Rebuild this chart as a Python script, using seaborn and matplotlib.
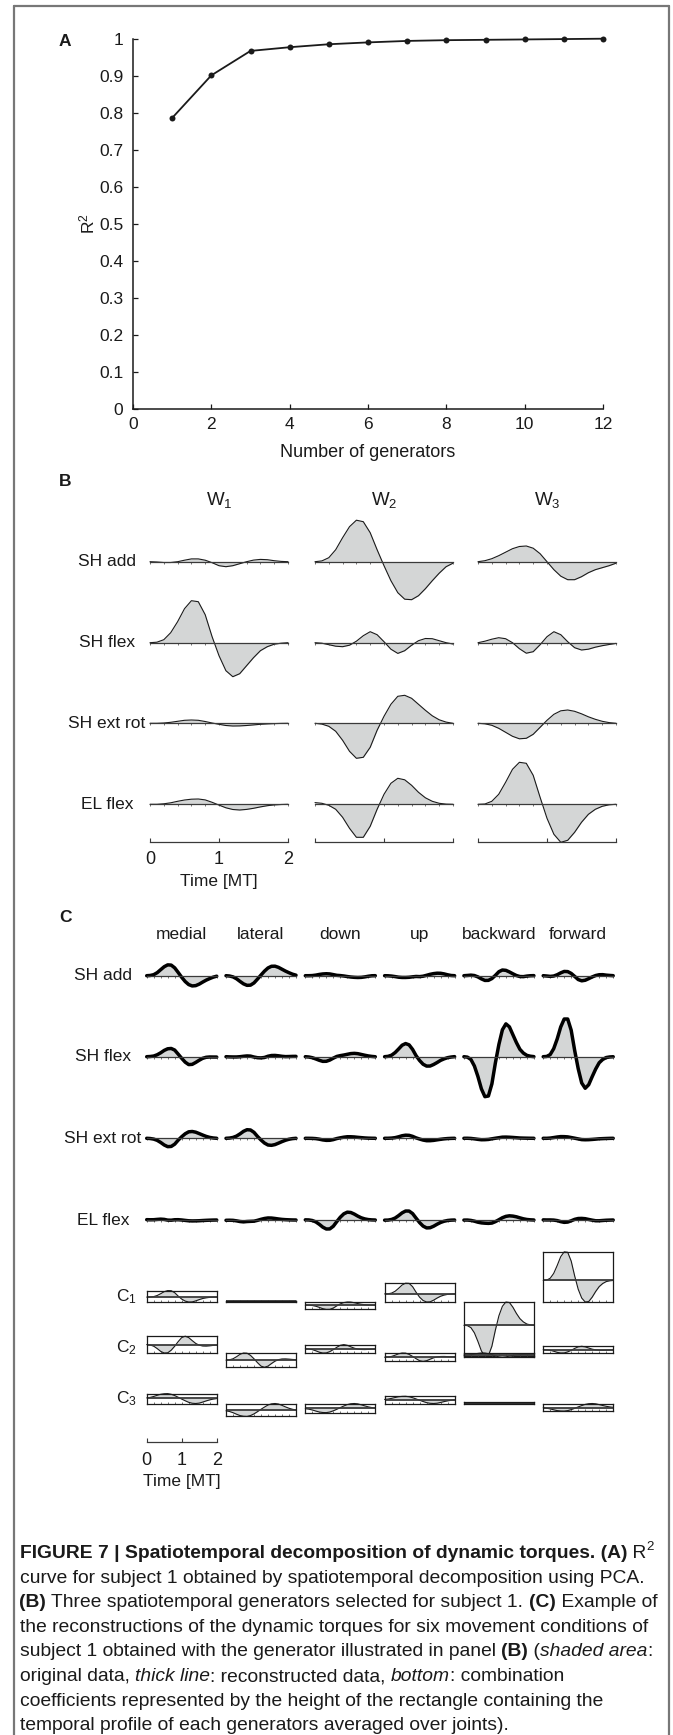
import numpy as np
import matplotlib
matplotlib.use("Agg")
import matplotlib.pyplot as plt
import seaborn as sns
import pandas as pd
from matplotlib.lines import Line2D
from matplotlib.font_manager import FontProperties

# ---------------- data ----------------
N_GENERATORS = [1, 2, 3, 4, 5, 6, 7, 8, 9, 10, 11, 12]
R2_VALUES = [0.786, 0.901, 0.967, 0.977, 0.985, 0.990, 0.994, 0.996, 0.997, 0.998, 0.999, 1.0]
R2_TICKS = ['0', '0.1', '0.2', '0.3', '0.4', '0.5', '0.6', '0.7', '0.8', '0.9', '1']

TIME = [0.0, 0.1, 0.2, 0.3, 0.4, 0.5, 0.6, 0.7, 0.8, 0.9, 1.0,
        1.1, 1.2, 1.3, 1.4, 1.5, 1.6, 1.7, 1.8, 1.9, 2.0]

JOINTS = ['SH add', 'SH flex', 'SH ext rot', 'EL flex']
GEN_TITLES = ['W$_1$', 'W$_2$', 'W$_3$']
CONDITIONS = ['medial', 'lateral', 'down', 'up', 'backward', 'forward']
COEF_LABELS = ['C$_1$', 'C$_2$', 'C$_3$']

# generator W1 (px amplitude per joint)
W1_SH_ADD = [0, -0.3, -0.8, -0.8, 0, 1.5, 2.8, 2.8, 1.5, -1, -4, -5, -4, -2, 0, 1.6, 2.3, 2.0, 1.0, 0.3, 0]
W1_SH_FLEX = [0, 0.5, 3, 10, 21, 34, 42, 41, 28, 6, -13, -28, -34, -31, -23, -15, -8, -4, -1.5, -0.5, 0]
W1_SH_EXT = [0, 0, 0.3, 1, 2, 3, 3.3, 3, 1.8, 0.3, -1, -2.2, -2.7, -2.6, -2.2, -1.6, -1, -0.6, -0.3, -0.1, 0]
W1_EL_FLEX = [0, 0, 0.5, 1.5, 3, 4.3, 5.1, 5.3, 4.4, 2, -0.8, -3.5, -5.2, -5.7, -5.1, -4, -2.6, -1.4, -0.6, -0.2, 0]
# generator W2
W2_SH_ADD = [0, 0.8, 4, 12, 24, 35, 41.5, 40, 29, 12, -4, -19, -31, -37.5, -38, -34, -27, -19, -11.5, -5, -1.5]
W2_SH_FLEX = [0, -0.5, -2, -3.5, -4, -2.5, 1.5, 7, 11, 8, 1, -6.5, -10.7, -8, -2.5, 2, 4.2, 4, 2, 0, -1.3]
W2_SH_EXT = [0, -0.8, -3, -8, -17, -28, -35, -34, -24, -7, 7, 19, 27, 28, 25, 19, 13, 7.5, 3.5, 1.2, 0]
W2_EL_FLEX = [1.7, 1, -1, -5, -13, -24, -33, -33, -22, -5, 10, 21, 26, 24.5, 19, 12, 6.5, 3, 1, 0.2, 0]
# generator W3
W3_SH_ADD = [0, 1, 3, 6, 9.5, 13, 15.2, 15.7, 13.5, 8, 0, -8, -14.5, -18, -18, -15, -11, -8, -6, -4, -1.5]
W3_SH_FLEX = [0, 1.5, 3.5, 5, 4, 0, -6, -10.5, -9, -2, 6, 11, 8, 1, -5, -7.3, -6.5, -4.5, -3, -1.8, -0.7]
W3_SH_EXT = [0, -0.5, -2, -5, -9, -13, -15.5, -15, -11, -4, 3, 9, 12.5, 13.3, 12, 9.5, 6.5, 4, 2, 0.7, 0]
W3_EL_FLEX = [0, 0.3, 3, 10, 22, 35, 42, 41, 29, 7, -14, -30, -38, -36, -28, -18, -10, -5, -2, -0.5, 0]

# temporal profiles of generators averaged over joints (per unit coefficient)
P1 = [0, 0.4, 2.5, 8, 17, 27, 32.5, 32, 22, 5, -10, -20, -24.5, -24, -19, -12.5, -7, -3.5, -1.3, -0.4, 0]
P2 = [0, -2, -8, -20, -34, -42, -41, -28, -8, 15, 35, 42, 35, 20, 6, -3, -7, -7.5, -6, -4, -3]
P3 = [2, 6, 13, 22, 30, 34, 35, 30, 20, 7, -7, -20, -32, -39, -41, -38, -30, -21, -13, -7, -3]

# combination coefficients per condition
C1_COEF = [0.20, 0.00, -0.13, 0.33, -0.95, 0.88]
C2_COEF = [0.20, -0.17, 0.10, -0.10, -0.05, 0.08]
C3_COEF = [0.13, -0.17, -0.12, 0.095, 0.00, -0.10]

GENS = [[W1_SH_ADD, W1_SH_FLEX, W1_SH_EXT, W1_EL_FLEX],
        [W2_SH_ADD, W2_SH_FLEX, W2_SH_EXT, W2_EL_FLEX],
        [W3_SH_ADD, W3_SH_FLEX, W3_SH_EXT, W3_EL_FLEX]]
PROFILES = [P1, P2, P3]
COEFS = [C1_COEF, C2_COEF, C3_COEF]

# ---------------- style ----------------
sns.set_theme(style="white")
plt.rcParams['font.family'] = ['Liberation Sans', 'DejaVu Sans']
plt.rcParams['mathtext.fontset'] = 'custom'
plt.rcParams['mathtext.rm'] = 'Liberation Sans'
plt.rcParams['mathtext.it'] = 'Liberation Sans:italic'
plt.rcParams['mathtext.bf'] = 'Liberation Sans:bold'

FILL = '#d4d6d6'
DARK = '#1a1a1a'
BASE = '#3a3a3a'
LBL = 12.5

W, H = 673, 1735
fig = plt.figure(figsize=(W / 100, H / 100), dpi=100)
fig.patch.set_facecolor('white')


def px_axes(x0, x1, ytop, ybot):
    return fig.add_axes([x0 / W, 1 - ybot / H, (x1 - x0) / W, (ybot - ytop) / H])


def ftext(x, y, s, **kw):
    return fig.text(x / W, 1 - y / H, s, **kw)


TICKS_02 = np.round(np.arange(0, 2.01, 0.2), 1)


def style_trace(ax, lim=50):
    ax.set_xlim(0, 2)
    ax.set_ylim(-lim, lim)
    for s in ['top', 'right', 'left']:
        ax.spines[s].set_visible(False)
    ax.spines['bottom'].set_position(('data', 0))
    ax.spines['bottom'].set_color(BASE)
    ax.spines['bottom'].set_linewidth(0.9)
    ax.set_xticks(TICKS_02)
    ax.tick_params(axis='x', bottom=True, direction='out', length=1.6, width=0.5,
                   colors=BASE, labelbottom=False)
    ax.set_yticks([])
    ax.set_xlabel('')
    ax.set_ylabel('')
    ax.patch.set_visible(False)


def time_axis(x0, x1, ybase, labels):
    ax = px_axes(x0, x1, ybase - 10, ybase)
    ax.set_xlim(0, 2)
    ax.set_ylim(0, 1)
    for s in ['top', 'right', 'left']:
        ax.spines[s].set_visible(False)
    ax.spines['bottom'].set_color(BASE)
    ax.spines['bottom'].set_linewidth(0.9)
    ax.set_xticks([0, 1, 2])
    ax.set_yticks([])
    ax.patch.set_visible(False)
    ax.tick_params(axis='x', bottom=True, direction='in', length=3, width=0.8,
                   colors=BASE, labelcolor=DARK, labelsize=13, pad=7)
    if labels:
        ax.set_xticklabels(['0', '1', '2'])
        lab = ax.set_xlabel('Time [MT]', fontsize=LBL, color=DARK)
        ax.xaxis.set_label_coords(0.5, -3.2)
        lab.set_va('top')
    else:
        ax.set_xticklabels([])
    return ax


# ---------------- border ----------------
for xs, ys in [([13.5, 13.5], [6, H + 5]), ([668.5, 668.5], [6, H + 5]), ([13.5, 668.5], [6, 6])]:
    fig.add_artist(Line2D([x / W for x in xs], [1 - y / H for y in ys],
                          transform=fig.transFigure, color='#777777', lw=1.6))

# ---------------- panel A ----------------
axA = px_axes(133, 603, 38.7, 409)
dfA = pd.DataFrame({'n': N_GENERATORS, 'r2': R2_VALUES})
sns.lineplot(data=dfA, x='n', y='r2', ax=axA, color=DARK, lw=1.3, marker='o',
             markersize=4.3, markeredgewidth=0, markerfacecolor=DARK, clip_on=False)
axA.set_xlim(0, 12)
axA.set_ylim(0, 1)
axA.set_xticks(range(0, 13, 2))
axA.set_yticks(np.round(np.arange(0, 1.01, 0.1), 1))
axA.set_yticklabels(R2_TICKS)
for s in ['top', 'right']:
    axA.spines[s].set_visible(False)
for s in ['left', 'bottom']:
    axA.spines[s].set_color(DARK)
    axA.spines[s].set_linewidth(1.1)
axA.tick_params(axis='both', bottom=True, left=True, direction='in', length=3.5, width=0.9,
                colors=DARK, labelsize=12.5)
axA.tick_params(axis='y', pad=7)
axA.tick_params(axis='x', pad=6)
axA.patch.set_visible(False)
xl = axA.set_xlabel('Number of generators', fontsize=13, color=DARK)
axA.xaxis.set_label_coords(0.5, -(444 - 409) / 370.3)
xl.set_va('top')
yl = axA.set_ylabel('R$^2$', fontsize=12.5, color=DARK)
axA.yaxis.set_label_coords((87 - 133) / 470, 0.5)
yl.set_va('center')
ftext(65, 42, 'A', fontsize=12.5, fontweight='bold', ha='center', va='center', color=DARK)

# ---------------- panel B ----------------
ftext(65, 482, 'B', fontsize=12.5, fontweight='bold', ha='center', va='center', color=DARK)
B_COLS_X = [150, 315, 478]
B_COL_W = 138
B_ROWS_Y = [561.7, 642.7, 723.3, 804.3]
for c in range(3):
    ftext(B_COLS_X[c] + B_COL_W / 2, 500, GEN_TITLES[c], fontsize=13.5, ha='center',
          va='center', color=DARK)
    for r in range(4):
        yb = B_ROWS_Y[r]
        ax = px_axes(B_COLS_X[c], B_COLS_X[c] + B_COL_W, yb - 50, yb + 50)
        vals = GENS[c][r]
        ax.fill_between(TIME, 0, vals, color=FILL, lw=0)
        sns.lineplot(x=TIME, y=vals, ax=ax, color=DARK, lw=0.8, clip_on=False)
        style_trace(ax)
    time_axis(B_COLS_X[c], B_COLS_X[c] + B_COL_W, 841.7, labels=(c == 0))
for r in range(4):
    ftext(107, B_ROWS_Y[r], JOINTS[r], fontsize=LBL, ha='center', va='center', color=DARK)

# ---------------- panel C ----------------
ftext(65, 917, 'C', fontsize=12.5, fontweight='bold', ha='center', va='center', color=DARK)
C_COLS_X = [146.7, 226.0, 305.3, 384.6, 463.9, 543.2]
C_COL_W = 70
C_ROWS_Y = [975.7, 1056.7, 1138.3, 1220.0]
C_REF_Y = [1302, 1353, 1403.5]

for k in range(6):
    ftext(C_COLS_X[k] + C_COL_W / 2, 934, CONDITIONS[k], fontsize=LBL, ha='center',
          va='center', color=DARK)
    for j in range(4):
        recon = sum(COEFS[i][k] * np.array(GENS[i][j], dtype=float) for i in range(3))
        yb = C_ROWS_Y[j]
        ax = px_axes(C_COLS_X[k], C_COLS_X[k] + C_COL_W, yb - 50, yb + 50)
        ax.fill_between(TIME, 0, recon, color=FILL, lw=0)
        sns.lineplot(x=TIME, y=recon, ax=ax, color=DARK, lw=0.6, clip_on=False)
        sns.lineplot(x=TIME, y=recon, ax=ax, color='black', lw=2.5, clip_on=False,
                     solid_capstyle='round')
        style_trace(ax)
    # coefficient rectangles
    for i in range(3):
        a = COEFS[i][k]
        curve = a * np.array(PROFILES[i], dtype=float)
        lo, hi = curve.min(), curve.max()
        if hi - lo < 1.5:
            mid = (hi + lo) / 2
            lo, hi = mid - 0.75, mid + 0.75
        span = hi - lo
        ref = C_REF_Y[i]
        if a >= 0:
            ytop, ybot = ref - span, ref
        else:
            ytop, ybot = ref, ref + span
        ax = px_axes(C_COLS_X[k], C_COLS_X[k] + C_COL_W, ytop, ybot)
        ax.set_xlim(0, 2)
        ax.set_ylim(lo, hi)
        ax.fill_between(TIME, 0, curve, color=FILL, lw=0)
        ax.axhline(0, color=BASE, lw=1.3, zorder=2.2)
        sns.lineplot(x=TIME, y=curve, ax=ax, color=DARK, lw=0.8, clip_on=False)
        for s in ax.spines.values():
            s.set_visible(True)
            s.set_color(DARK)
            s.set_linewidth(0.9)
        ax.set_xticks(TICKS_02)
        ax.set_yticks([])
        ax.tick_params(axis='x', bottom=True, direction='in', length=1.5, width=0.5,
                       colors=BASE, labelbottom=False)
        ax.set_xlabel('')
        ax.set_ylabel('')
        ax.patch.set_visible(False)

for j in range(4):
    ftext(103, C_ROWS_Y[j], JOINTS[j], fontsize=LBL, ha='center', va='center', color=DARK)
for i in range(3):
    ftext(137, C_REF_Y[i] - 5, COEF_LABELS[i], fontsize=LBL, ha='right', va='center',
          color=DARK)
time_axis(C_COLS_X[0], C_COLS_X[0] + C_COL_W, 1442, labels=True)

# ---------------- caption ----------------
renderer = fig.canvas.get_renderer()
FAM = ['Liberation Sans', 'DejaVu Sans']


def seg_width(s, size, weight='normal', style='normal'):
    fp = FontProperties(family=FAM, size=size, weight=weight, style=style)
    w1, _, _ = renderer.get_text_width_height_descent('|' + s + '|', fp, ismath=False)
    w0, _, _ = renderer.get_text_width_height_descent('||', fp, ismath=False)
    return w1 - w0


CAPTION = [
    [("FIGURE 7 | Spatiotemporal decomposition of dynamic torques. (A)", 'b'), (" R", 'r'), ("2", 'sup')],
    [("curve for subject 1 obtained by spatiotemporal decomposition using PCA.", 'r')],
    [("(B)", 'b'), (" Three spatiotemporal generators selected for subject 1. ", 'r'), ("(C)", 'b'), (" Example of", 'r')],
    [("the reconstructions of the dynamic torques for six movement conditions of", 'r')],
    [("subject 1 obtained with the generator illustrated in panel ", 'r'), ("(B)", 'b'), (" (", 'r'),
     ("shaded area", 'i'), (":", 'r')],
    [("original data, ", 'r'), ("thick line", 'i'), (": reconstructed data, ", 'r'), ("bottom", 'i'),
     (": combination", 'r')],
    [("coefficients represented by the height of the rectangle containing the", 'r')],
    [("temporal profile of each generators averaged over joints).", 'r')],
]

w10 = seg_width(CAPTION[3][0][0], 10)
CAP_SIZE = 10 * 630 / w10
for li, line in enumerate(CAPTION):
    x = 19.5
    yb = 1558 + 24.6 * li
    for s, st in line:
        kw = dict(ha='left', va='baseline', color=DARK, family=FAM)
        weight, style = 'normal', 'normal'
        yy = yb
        size = CAP_SIZE
        if st == 'b':
            weight = 'bold'
        elif st == 'i':
            style = 'italic'
        elif st == 'sup':
            size = CAP_SIZE * 0.7
            yy = yb - CAP_SIZE * 0.55
        kw.update(fontsize=size, fontweight=weight, fontstyle=style)
        ftext(x, yy, s, **kw)
        x += seg_width(s, size, weight, style)

fig.savefig('out.png', dpi=100, facecolor='white')
